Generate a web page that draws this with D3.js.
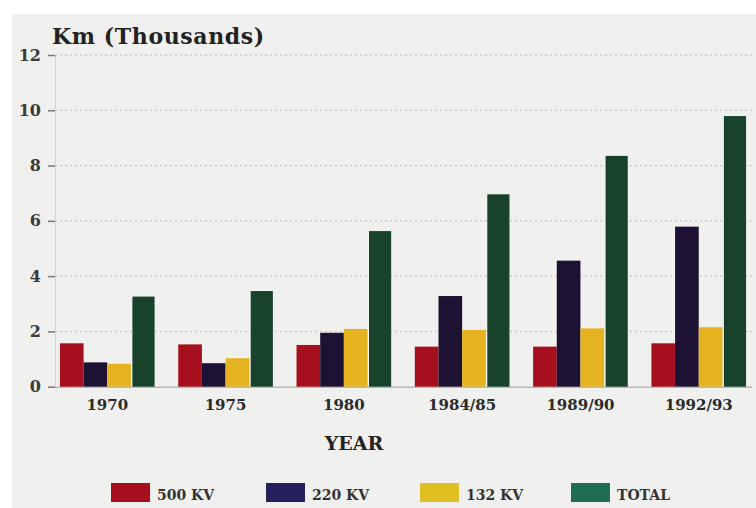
<!DOCTYPE html>
<html><head><meta charset="utf-8">
<script src="https://cdn.jsdelivr.net/npm/d3@7"></script>
<style>html,body{margin:0;padding:0;background:#fff;}svg{display:block;}</style>
</head><body>
<script>
const categories = ["1970","1975","1980","1984/85","1989/90","1992/93"];
const seriesNames = ["500 KV","220 KV","132 KV","TOTAL"];
const v500 = [1.57,1.53,1.51,1.45,1.45,1.57];
const v220 = [0.88,0.85,1.95,3.28,4.56,5.79];
const v132 = [0.83,1.03,2.09,2.05,2.11,2.15];
const vTotal = [3.26,3.46,5.63,6.96,8.35,9.79];
const yTicks = [0,2,4,6,8,10,12];
const barColors = ["#a60f1d","#1e1234","#e5b31f","#18422a"];
const legendColors = ["#a80f1e","#25205e","#e0bf22","#1f6e53"];

const series = [v500, v220, v132, vTotal];
const W = 756, H = 508;
const font = "'DejaVu Serif', serif";

const svg = d3.select("body").append("svg").attr("width", W).attr("height", H);
svg.append("rect").attr("width", W).attr("height", H).attr("fill", "#ffffff");
svg.append("rect").attr("x", 12).attr("y", 14).attr("width", W-12).attr("height", H-14).attr("fill", "#f0f0ee");

const y = d3.scaleLinear().domain([0, 12]).range([386.7, 55]);
const x0 = d3.scaleBand().domain(categories).range([50, 756]).paddingInner(0.2).paddingOuter(0.084);
const x1 = d3.scaleBand().domain(seriesNames).range([0, x0.bandwidth()]).padding(0);

// gridlines
const grid = svg.append("g");
grid.selectAll("line").data(yTicks.filter(d => d > 0)).join("line")
  .attr("x1", 55).attr("x2", 752)
  .attr("y1", d => y(d)).attr("y2", d => y(d))
  .attr("stroke", "#b9b9b9").attr("stroke-width", 1).attr("stroke-dasharray", "2,3");

// y axis
const yAxis = svg.append("g").attr("transform", "translate(55,0)")
  .call(d3.axisLeft(y).tickValues(yTicks).tickSize(7).tickPadding(7).tickFormat(d3.format("d")));
yAxis.select(".domain").attr("stroke", "#d0d0d0");
yAxis.selectAll(".tick line").attr("stroke", "#777").attr("stroke-width", 1.5);
yAxis.selectAll(".tick text").attr("font-family", font).attr("font-weight", "bold")
  .attr("font-size", 16).attr("fill", "#3a3a3a");

// baseline
svg.append("line").attr("x1", 55).attr("x2", 752).attr("y1", y(0)+0.5).attr("y2", y(0)+0.5)
  .attr("stroke", "#b8b8b8").attr("stroke-width", 1.5);

// bars
const groups = svg.append("g").selectAll("g").data(categories).join("g")
  .attr("transform", d => `translate(${x0(d)},0)`);
groups.selectAll("rect").data((c, i) => seriesNames.map((s, j) => ({s, j, v: series[j][i]}))).join("rect")
  .attr("x", d => x1(d.s) + (d.j === 3 ? 1.5 : 0))
  .attr("width", d => x1.bandwidth() - (d.j === 3 ? 1.5 : 0))
  .attr("y", d => y(d.v))
  .attr("height", d => y(0) - y(d.v))
  .attr("fill", d => barColors[d.j]);

// x axis labels
const xAxis = svg.append("g").attr("transform", `translate(0,${y(0)})`)
  .call(d3.axisBottom(x0).tickSize(0).tickPadding(13));
xAxis.select(".domain").remove();
xAxis.selectAll(".tick text").attr("font-family", font).attr("font-weight", "bold")
  .attr("font-size", 15).attr("fill", "#2a2a2a");

// title
svg.append("text").attr("x", 52).attr("y", 44).text("Km (Thousands)")
  .attr("font-family", font).attr("font-weight", "bold").attr("font-size", 22)
  .attr("letter-spacing", 0.6).attr("fill", "#222");

// x axis title
svg.append("text").attr("x", 354).attr("y", 450).attr("text-anchor", "middle").text("YEAR")
  .attr("font-family", font).attr("font-weight", "bold").attr("font-size", 19).attr("fill", "#222");

// legend
const legendX = [111, 266, 420, 571];
const leg = svg.append("g").selectAll("g").data(seriesNames).join("g")
  .attr("transform", (d, i) => `translate(${legendX[i]},483)`);
leg.append("rect").attr("width", 39).attr("height", 19).attr("fill", (d, i) => legendColors[i]);
leg.append("text").attr("x", 46).attr("y", 17).text(d => d)
  .attr("font-family", font).attr("font-weight", "bold").attr("font-size", 14).attr("fill", "#333");
</script>
</body></html>
